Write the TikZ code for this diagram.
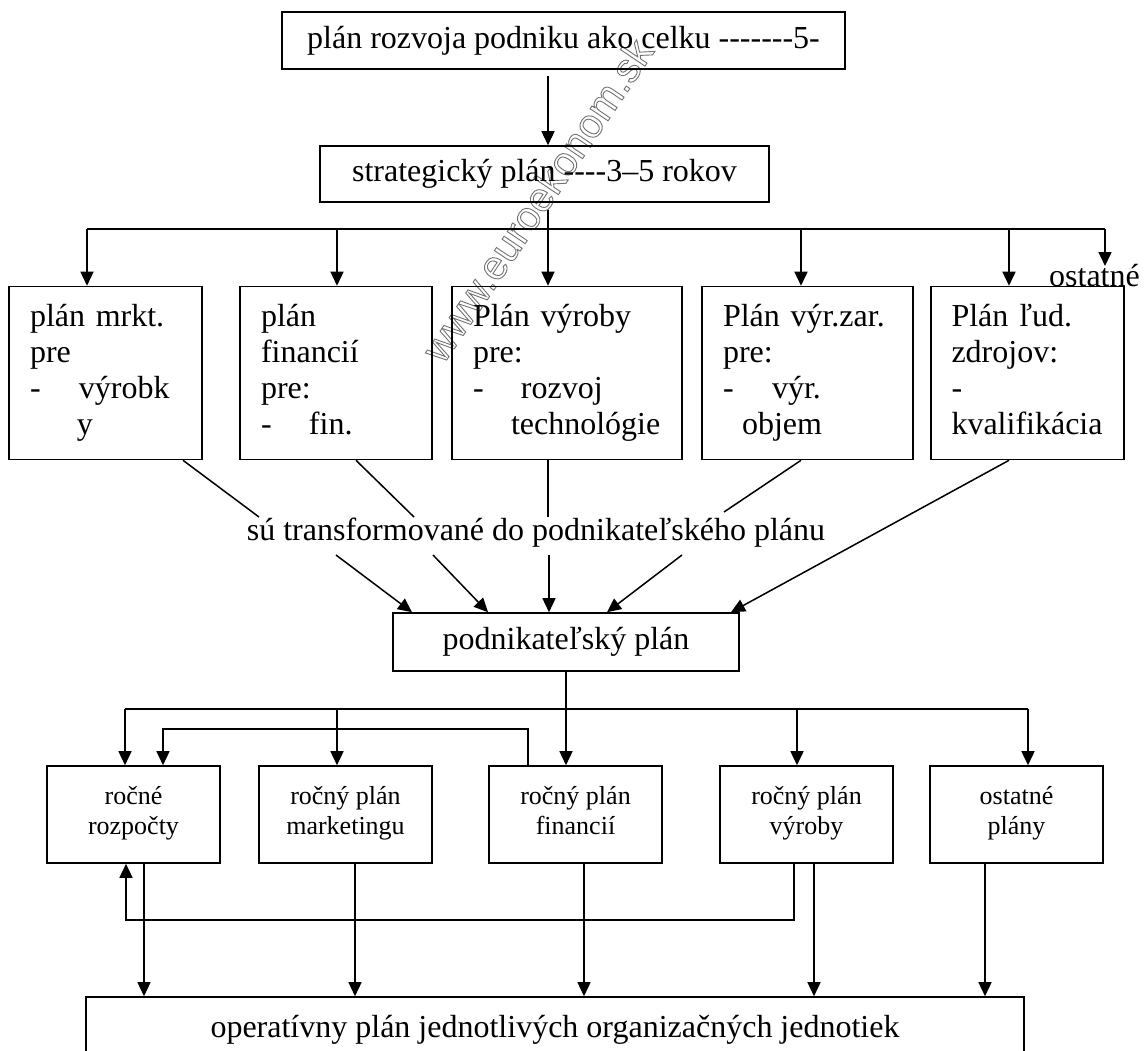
\documentclass[tikz,border=0pt]{standalone}
\usepackage{fontspec}
\setmainfont{Liberation Serif}[Ligatures=TeXOff]
\newfontfamily\wmfont{Liberation Sans}
\usetikzlibrary{arrows.meta}
\newcommand{\outlinetext}[1]{\special{pdf:literal direct 1 Tr 0.9 w}#1\special{pdf:literal direct 0 Tr}}
\begin{document}
\begin{tikzpicture}[x=1pt,y=-1pt,
  line width=1.5pt,
  arr/.style={-{Triangle[length=14pt,width=13pt]}},
  bigbox/.style={draw,line width=1.6pt,font=\fontsize{32}{36}\selectfont,inner sep=0pt},
  planbox/.style={draw,line width=1.6pt,font=\fontsize{32}{36}\selectfont,inner ysep=0pt,inner xsep=21pt,align=left,minimum height=173pt},
  rocbox/.style={draw,line width=1.6pt,font=\fontsize{26}{30}\selectfont,align=center,minimum width=173pt,minimum height=97pt,inner sep=0pt},
  plaintext/.style={font=\fontsize{32}{36}\selectfont,inner sep=0pt},
  wmark/.style={font=\wmfont\fontsize{41}{43}\selectfont,text=black!55,inner sep=0pt}]
\useasboundingbox (0,0) rectangle (1148,1050);
\clip (0,0) rectangle (1148,1050);
\fill[white] (0,0) rectangle (1148,1050);

% watermark
\node[wmark,rotate=56] (wm) at (537,200) {\outlinetext{www.euroekonom.sk}};

% top boxes
\node[bigbox,minimum width=563pt,minimum height=57pt] (top) at (563.5,40.5) {plán rozvoja podniku ako celku -------5-};
\node[bigbox,minimum width=449pt,minimum height=56pt] (strat) at (544.5,174) {strategický plán ----3–5 rokov};

% first row of plans
\node[planbox,text width=151pt] (p1) at (105.5,373) {\strut plán mrkt.\\pre\\\makebox[49pt][l]{-}výrobk\\\hspace*{47pt}y\strut};
\node[planbox,text width=150pt] (p2) at (336,373) {\strut plán\\financií\\pre:\\\makebox[48pt][l]{-}fin.\strut};
\node[planbox,text width=188pt] (p3) at (567,373) {\strut Plán výroby\\pre:\\\makebox[48pt][l]{-}rozvoj\\\hspace*{38pt}technológie\strut};
\node[planbox,text width=169pt] (p4) at (807.5,373) {\strut Plán výr.zar.\\pre:\\\makebox[49pt][l]{-}výr.\\\hspace*{19pt}objem\strut};
\node[planbox,text width=152pt,inner xsep=20.5pt] (p5) at (1027.5,373) {\strut Plán ľud.\\zdrojov:\\-\\kvalifikácia\strut};
\node[plaintext] (ost) at (1094.5,276) {ostatné};

% label and business plan
\node[plaintext] (lbl) at (536,533) {sú transformované do podnikateľského plánu};
\node[bigbox,minimum width=346pt,minimum height=58pt] (pod) at (566,642) {podnikateľský plán};

% annual plans
\node[rocbox] (r1) at (133.5,814.5) {ročné\\rozpočty\strut};
\node[rocbox] (r2) at (345.5,814.5) {ročný plán\\marketingu\strut};
\node[rocbox] (r3) at (575.5,814.5) {ročný plán\\financií\strut};
\node[rocbox] (r4) at (806.5,814.5) {ročný plán\\výroby\strut};
\node[rocbox] (r5) at (1016.5,814.5) {ostatné\\plány\strut};

% operative plan
\node[bigbox,minimum width=938pt,minimum height=66pt] (op) at (555,1030) {operatívny plán jednotlivých organizačných jednotiek};

% connectors: top part
\draw[arr,shorten <=6pt] (top.south -| 548,0) -- (strat.north -| 548,0);
\coordinate (hA) at (87,229);
\coordinate (hB) at (337,229);
\coordinate (hC) at (548,229);
\coordinate (hD) at (801,229);
\coordinate (hE) at (1009,229);
\coordinate (hF) at (1105,229);
\coordinate (ostT) at (1105,266);
\draw[shorten <=7pt] (strat.south -| hC) -- (hC);
\draw (hA) -- (hF);
\draw[arr] (hA) -- (p1.north -| hA);
\draw[arr] (hB) -- (p2.north -| hB);
\draw[arr] (hC) -- (p3.north -| hC);
\draw[arr] (hD) -- (p4.north -| hD);
\draw[arr] (hE) -- (p5.north -| hE);
\draw[arr] (hF) -- (ostT);

% plans to label
\coordinate (l1) at (259,517);
\coordinate (l2) at (414,517);
\coordinate (l3) at (548,517);
\coordinate (l4) at (724,512);
\draw (p1.south -| 183,0) -- (l1);
\draw (p2.south -| 356,0) -- (l2);
\draw (p3.south -| 548,0) -- (l3);
\draw (p4.south -| 801,0) -- (l4);
\draw[arr] (p5.south -| 1009,0) -- (pod.north -| 731,0);

% label to business plan
\coordinate (m1) at (336,555);
\coordinate (m2) at (433,555);
\coordinate (m3) at (549,555);
\coordinate (m4) at (682,555);
\draw[arr] (m1) -- (pod.north -| 412,0);
\draw[arr] (m2) -- (pod.north -| 488,0);
\draw[arr] (m3) -- (pod.north -| 549,0);
\draw[arr] (m4) -- (pod.north -| 607,0);

% business plan to annual plans
\coordinate (k1) at (125,709);
\coordinate (k2) at (337,709);
\coordinate (k4) at (797,709);
\coordinate (k5) at (1028,709);
\draw[arr] (pod.south -| 566,0) -- (r3.north -| 566,0);
\draw (k1) -- (k5);
\draw[arr] (k1) -- (r1.north -| k1);
\draw[arr] (k2) -- (r2.north -| k2);
\draw[arr] (k4) -- (r4.north -| k4);
\draw[arr] (k5) -- (r5.north -| k5);

% financial plan back to budgets
\coordinate (j1) at (528,729);
\coordinate (j2) at (163,729);
\draw[arr] (r3.north -| j1) -- (j1) -- (j2) -- (r1.north -| j2);

% production plan back to budgets
\coordinate (f1) at (794,920);
\coordinate (f2) at (126,920);
\draw[arr] (r4.south -| f1) -- (f1) -- (f2) -- (r1.south -| f2);

% annual plans to operative plan
\draw[arr] (r1.south -| 144,0) -- (op.north -| 144,0);
\draw[arr] (r2.south -| 355,0) -- (op.north -| 355,0);
\draw[arr] (r3.south -| 584,0) -- (op.north -| 584,0);
\draw[arr] (r4.south -| 814,0) -- (op.north -| 814,0);
\draw[arr] (r5.south -| 985,0) -- (op.north -| 985,0);
\end{tikzpicture}
\end{document}
